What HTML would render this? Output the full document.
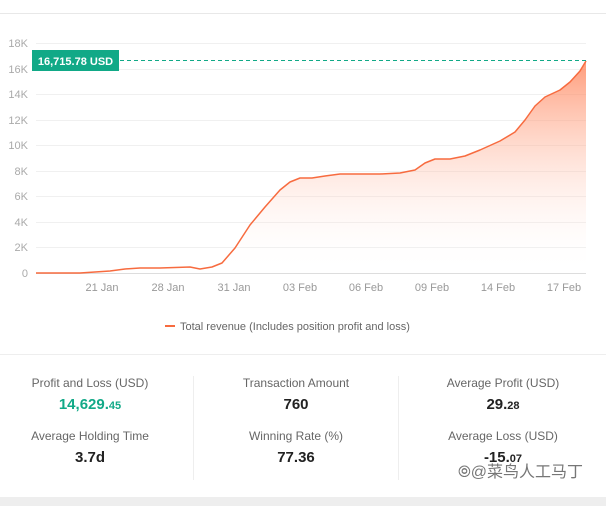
<!DOCTYPE html>
<html><head><style>
body{margin:0;width:606px;height:506px;background:#fff;font-family:"Liberation Sans","Noto Sans CJK SC",sans-serif;position:relative;overflow:hidden}
.t{position:absolute;font-size:12px;color:#666;text-align:center;width:190px}
.v{position:absolute;font-size:15px;font-weight:bold;color:#222;text-align:center;width:190px}
.v small{font-size:11px}
</style></head><body>
<div style="position:absolute;left:0;top:13px;width:606px;height:1px;background:#e8e8e8"></div>
<svg style="position:absolute;left:0;top:0" width="606" height="350">
<defs><linearGradient id="g" x1="0" y1="0" x2="0" y2="1"><stop offset="0" stop-color="#ff7a4d" stop-opacity="0.75"/><stop offset="1" stop-color="#fff" stop-opacity="0"/></linearGradient></defs>
<g stroke="#f0f0f0" stroke-width="1">
<line x1="36" x2="586" y1="43.5" y2="43.5"/><line x1="36" x2="586" y1="69.5" y2="69.5"/><line x1="36" x2="586" y1="94.5" y2="94.5"/><line x1="36" x2="586" y1="120.5" y2="120.5"/><line x1="36" x2="586" y1="145.5" y2="145.5"/><line x1="36" x2="586" y1="171.5" y2="171.5"/><line x1="36" x2="586" y1="196.5" y2="196.5"/><line x1="36" x2="586" y1="222.5" y2="222.5"/><line x1="36" x2="586" y1="247.5" y2="247.5"/>
</g>
<line x1="36" x2="586" y1="273.5" y2="273.5" stroke="#ddd"/>
<g font-size="11" fill="#aaa" text-anchor="end">
<text x="28" y="47">18K</text><text x="28" y="73">16K</text><text x="28" y="98">14K</text><text x="28" y="124">12K</text><text x="28" y="149">10K</text><text x="28" y="175">8K</text><text x="28" y="200">6K</text><text x="28" y="226">4K</text><text x="28" y="251">2K</text><text x="28" y="277">0</text>
</g>
<g font-size="11" fill="#999" text-anchor="middle">
<text x="102" y="291">21 Jan</text><text x="168" y="291">28 Jan</text><text x="234" y="291">31 Jan</text><text x="300" y="291">03 Feb</text><text x="366" y="291">06 Feb</text><text x="432" y="291">09 Feb</text><text x="498" y="291">14 Feb</text><text x="564" y="291">17 Feb</text>
</g>
<path d="M36,273 L80,273 110,271 125,269 140,268 160,268 190,267 200,269 212,267 222,263 235,248 250,225 265,207 280,190 290,182 300,178 312,178 325,176 340,174 360,174 380,174 400,173 415,170 425,163 435,159 450,159 465,156 480,150 500,141 515,132 525,120 535,106 545,97 560,90 570,82 580,71 586,61 L586,273 Z" fill="url(#g)"/>
<path d="M36,273 L80,273 110,271 125,269 140,268 160,268 190,267 200,269 212,267 222,263 235,248 250,225 265,207 280,190 290,182 300,178 312,178 325,176 340,174 360,174 380,174 400,173 415,170 425,163 435,159 450,159 465,156 480,150 500,141 515,132 525,120 535,106 545,97 560,90 570,82 580,71 586,61" fill="none" stroke="#f76b3f" stroke-width="1.5" stroke-linejoin="round"/>
<line x1="120" x2="586" y1="60.5" y2="60.5" stroke="#11a987" stroke-dasharray="4,3"/>
<rect x="32" y="50" width="87" height="21" fill="#11a987"/>
<text x="75.5" y="65" font-size="11" font-weight="bold" fill="#fff" text-anchor="middle">16,715.78 USD</text>
<line x1="165" x2="175" y1="326" y2="326" stroke="#f76b3f" stroke-width="2"/>
<text x="180" y="330" font-size="11" fill="#666">Total revenue (Includes position profit and loss)</text>
</svg>
<div style="position:absolute;left:0;top:354px;width:606px;height:1px;background:#eee"></div>
<div style="position:absolute;left:193px;top:376px;width:1px;height:104px;background:#eee"></div>
<div style="position:absolute;left:398px;top:376px;width:1px;height:104px;background:#eee"></div>
<div class="t" style="left:-5px;top:376px">Profit and Loss (USD)</div>
<div class="v" style="left:-5px;top:396px;color:#11a987">14,629.<small>45</small></div>
<div class="t" style="left:-5px;top:429px">Average Holding Time</div>
<div class="v" style="left:-5px;top:449px">3.7d</div>
<div class="t" style="left:201px;top:376px">Transaction Amount</div>
<div class="v" style="left:201px;top:396px">760</div>
<div class="t" style="left:201px;top:429px">Winning Rate (%)</div>
<div class="v" style="left:201px;top:449px">77.36</div>
<div class="t" style="left:408px;top:376px">Average Profit (USD)</div>
<div class="v" style="left:408px;top:396px">29.<small>28</small></div>
<div class="t" style="left:408px;top:429px">Average Loss (USD)</div>
<div class="v" style="left:408px;top:449px">-15.<small>07</small></div>
<div style="position:absolute;left:458px;top:458px;font-size:16px;color:#555;opacity:.8">⦾@菜鸟人工马丁</div>
<div style="position:absolute;left:0;top:497px;width:606px;height:9px;background:#eee"></div>
</body></html>
